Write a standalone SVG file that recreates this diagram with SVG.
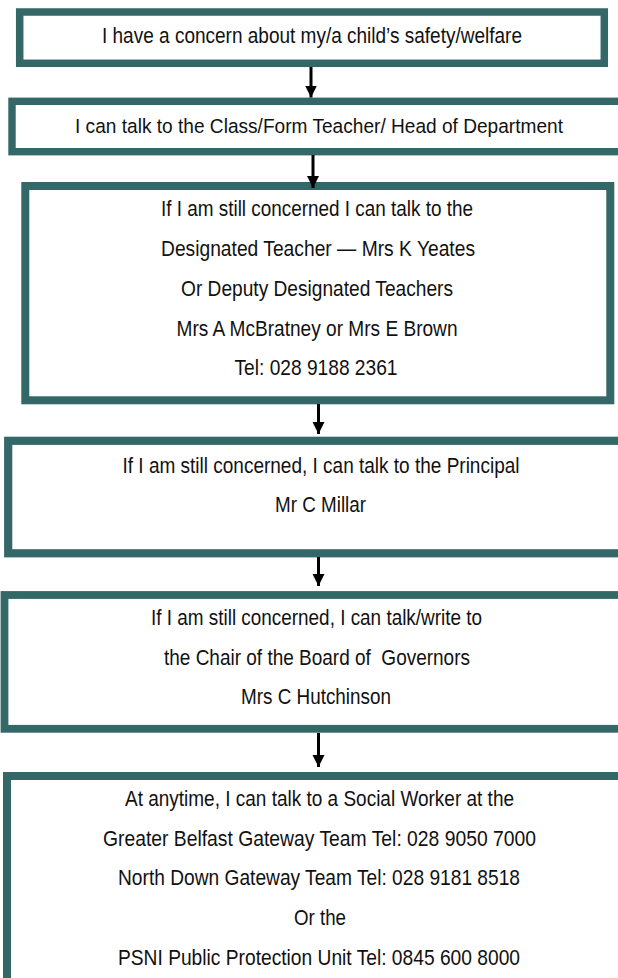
<svg xmlns="http://www.w3.org/2000/svg" width="618" height="978" viewBox="0 0 618 978">
<defs>
<style>
.box{fill:#ffffff;stroke:#346767;}
.t{font-family:"Liberation Sans",Arial,sans-serif;font-size:22.5px;fill:#111111;text-anchor:middle;white-space:pre;}
.c{stroke:#000000;stroke-width:3;fill:none;}
</style>
<marker id="ah" markerUnits="userSpaceOnUse" markerWidth="13" markerHeight="14" refX="12" refY="6" orient="auto">
<path d="M0,0 L12,6 L0,12 z" fill="#000000"/>
</marker>
</defs>
<rect width="618" height="978" fill="#ffffff"/>
<g id="node1">
<rect class="box" x="19.7" y="12" width="584.6" height="51.3" stroke-width="7.5"/>
<text class="t" x="312" y="43" textLength="420" lengthAdjust="spacingAndGlyphs">I have a concern about my/a child’s safety/welfare</text>
</g>
<g id="node2">
<rect class="box" x="12" y="101.3" width="610" height="50.4" stroke-width="7.4"/>
<text class="t" x="319" y="133" textLength="488" lengthAdjust="spacingAndGlyphs" style="font-size:20.5px">I can talk to the Class/Form Teacher/ Head of Department</text>
</g>
<g id="node3">
<rect class="box" x="25.3" y="186" width="585" height="214.3" stroke-width="8"/>
<text class="t" x="317" y="216" textLength="312" lengthAdjust="spacingAndGlyphs">If I am still concerned I can talk to the</text>
<text class="t" x="318" y="256" textLength="314" lengthAdjust="spacingAndGlyphs">Designated Teacher — Mrs K Yeates</text>
<text class="t" x="317" y="296" textLength="272" lengthAdjust="spacingAndGlyphs">Or Deputy Designated Teachers</text>
<text class="t" x="317" y="336" textLength="281" lengthAdjust="spacingAndGlyphs">Mrs A McBratney or Mrs E Brown</text>
<text class="t" x="316" y="375" textLength="163" lengthAdjust="spacingAndGlyphs">Tel: 028 9188 2361</text>
</g>
<g id="node4">
<rect class="box" x="8.2" y="440.8" width="614" height="112.5" stroke-width="8.2"/>
<text class="t" x="321" y="473" textLength="397" lengthAdjust="spacingAndGlyphs">If I am still concerned, I can talk to the Principal</text>
<text class="t" x="320.5" y="512" textLength="91" lengthAdjust="spacingAndGlyphs">Mr C Millar</text>
</g>
<g id="node5">
<rect class="box" x="4.5" y="595" width="617.5" height="133.8" stroke-width="7.8"/>
<text class="t" x="316.5" y="625" textLength="331" lengthAdjust="spacingAndGlyphs">If I am still concerned, I can talk/write to</text>
<text class="t" x="317" y="665" textLength="306" lengthAdjust="spacingAndGlyphs">the Chair of the Board of  Governors</text>
<text class="t" x="316" y="704" textLength="150" lengthAdjust="spacingAndGlyphs">Mrs C Hutchinson</text>
</g>
<g id="node6">
<rect class="box" x="7" y="776" width="615" height="206" stroke-width="8"/>
<text class="t" x="319.5" y="806" textLength="389" lengthAdjust="spacingAndGlyphs">At anytime, I can talk to a Social Worker at the</text>
<text class="t" x="319.5" y="846" textLength="433" lengthAdjust="spacingAndGlyphs">Greater Belfast Gateway Team Tel: 028 9050 7000</text>
<text class="t" x="319" y="885" textLength="402" lengthAdjust="spacingAndGlyphs">North Down Gateway Team Tel: 028 9181 8518</text>
<text class="t" x="320" y="925" textLength="52" lengthAdjust="spacingAndGlyphs">Or the</text>
<text class="t" x="319" y="965" textLength="402" lengthAdjust="spacingAndGlyphs">PSNI Public Protection Unit Tel: 0845 600 8000</text>
</g>
<g id="connectors">
<line class="c" x1="311" y1="67" x2="311" y2="97.5" marker-end="url(#ah)"/>
<line class="c" x1="313" y1="155" x2="313" y2="188" marker-end="url(#ah)"/>
<line class="c" x1="318.5" y1="404" x2="318.5" y2="434" marker-end="url(#ah)"/>
<line class="c" x1="318.5" y1="557" x2="318.5" y2="586" marker-end="url(#ah)"/>
<line class="c" x1="318.5" y1="733" x2="318.5" y2="767" marker-end="url(#ah)"/>
</g>
</svg>
